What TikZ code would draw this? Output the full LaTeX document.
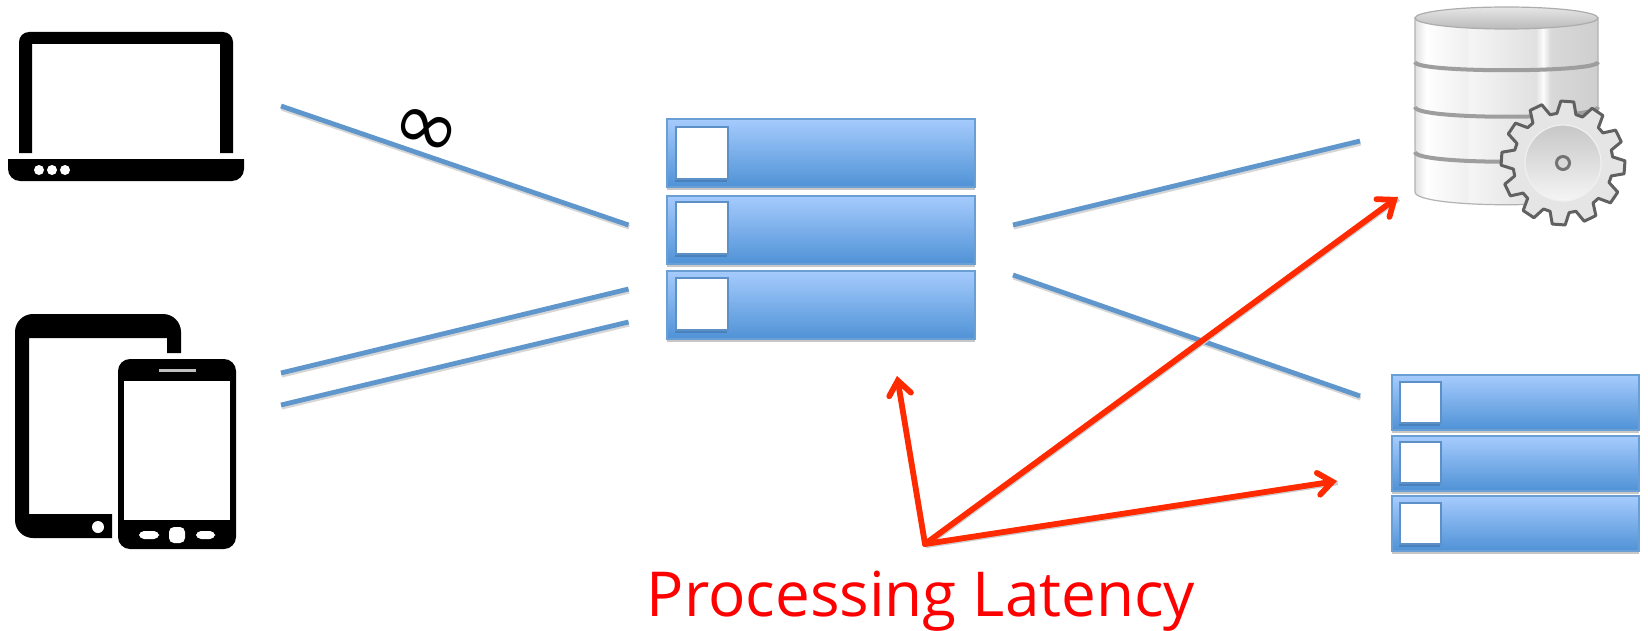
\documentclass[tikz,border=0pt]{standalone}
\usepackage{fontspec}
\setmainfont{Open Sans}
\newfontfamily\symbolfont{DejaVu Sans}
\usetikzlibrary{arrows.meta,shadows}
\definecolor{linkblue}{HTML}{5F96CB}
\definecolor{rowtop}{HTML}{A6CBFD}
\definecolor{rowbottom}{HTML}{4F92D6}
\definecolor{rowedge}{HTML}{6A9FD6}
\definecolor{celledge}{HTML}{5C90C6}
\definecolor{cellshade}{HTML}{3F72A8}
\definecolor{latencyred}{HTML}{FF2A00}
\pgfdeclarehorizontalshading{dbbody}{100bp}{
    color(0bp)=(black!12); color(25bp)=(black!12); color(28bp)=(white); color(39bp)=(black!6);
    color(40bp)=(black!4); color(58bp)=(black!12); color(60bp)=(black!1); color(62bp)=(black!15);
    color(75bp)=(black!19); color(100bp)=(black!19)}
\tikzset{
    rowbox/.style={draw=rowedge, line width=.8pt, top color=rowtop, bottom color=rowbottom,
        inner sep=0pt, outer sep=0pt, anchor=north west,
        drop shadow={shadow xshift=0pt, shadow yshift=-1.5pt, fill=black, opacity=.22}},
    midrow/.style={rowbox, minimum width=154pt, minimum height=34pt},
    sliprow/.style={rowbox, minimum width=123.5pt, minimum height=27.5pt},
    cellbox/.style={draw=celledge, line width=1pt, fill=white, inner sep=0pt, outer sep=0pt, anchor=north west,
        drop shadow={shadow xshift=-.3pt, shadow yshift=-1.6pt, fill=cellshade, opacity=.6}},
    midcell/.style={cellbox, minimum size=26pt},
    slipcell/.style={cellbox, minimum size=20.5pt},
    link/.style={draw=linkblue, line width=2.4pt,
        preaction={draw=black!16, line width=2.2pt, transform canvas={shift={(.3pt,-1.2pt)}}}},
    latency/.style={draw=latencyred, line width=2.9pt, line cap=round, -{Straight Barb[length=7pt,width=11pt,line cap=round]},
        preaction={draw=black!20, line width=2.2pt, -, transform canvas={shift={(.4pt,-1pt)}}}}
}
\begin{document}
\begin{tikzpicture}[x=.5pt, y=-.5pt]
    \useasboundingbox (0,0) rectangle (1648,631);

    \fill (19,153) [rounded corners=5pt] -- (19,32) -- (233,32) [sharp corners] -- (233,153) -- (220,153) -- (220,44) -- (32,44) -- (32,153) -- cycle;
    \fill (8,159) -- (244,159) [rounded corners=6pt] -- (244,181) -- (8,181) [sharp corners] -- cycle;
    \fill[white] (39,170) circle (5) (52,170) circle (5) (65,170) circle (5);

    \fill (181,353) [rounded corners=9pt] -- (181,314) -- (15,314) -- (15,538) [sharp corners] -- (112,538) -- (112,514) -- (29,514) -- (29,338) -- (167,338) -- (167,353) -- cycle;
    \fill[white] (98,527) circle (6);
    \fill[rounded corners=6pt] (118,359) rectangle (236,549);
    \fill[white] (124,381) rectangle (230,520);
    \fill[white!75!black] (159,368.5) rectangle (196,371.5);
    \fill[white, rounded corners=2.5pt] (139,531) rectangle (159,539) (196,531) rectangle (215,539) (169,527) rectangle (185,543);

    \foreach \n/\y/\s in {1/119/127, 2/196/202, 3/271/278} {
        \node[midrow] (midrow\n) at (667,\y) {};
        \node[midcell] (midcell\n) at (676,\s) {};
    }
    \foreach \n/\y/\s in {1/375/382, 2/436/442, 3/496/503} {
        \node[sliprow] (sliprow\n) at (1392,\y) {};
        \node[slipcell] (slipcell\n) at (1400,\s) {};
    }

    \shade[shading=dbbody, draw=black!30, line width=.6pt] (1415,18) -- (1415,192) .. controls (1415,209) and (1598,209) .. (1598,192) -- (1598,18) -- cycle;
    \draw[black!38, line width=2pt] (1415,62) .. controls (1415,73) and (1598,73) .. (1598,62);
    \draw[black!38, line width=2pt] (1415,107) .. controls (1415,120) and (1598,120) .. (1598,107);
    \draw[black!38, line width=2pt] (1415,152) .. controls (1415,165) and (1598,165) .. (1598,152);
    \shade[top color=black!10, bottom color=black!27, draw=black!32, line width=.6pt] (1506.5,18) ellipse [x radius=91.5, y radius=11];

    \coordinate (gear) at (1563,163);
    \draw[draw=black!62, line width=1.5pt, line join=round, fill=black!10]
        ([shift={(-7:50)}]gear) \foreach \a in {4,34,...,334} {
            -- ([shift={(\a-11:50)}]gear) -- ([shift={(\a-6:62)}]gear) -- ([shift={(\a+6:62)}]gear) -- ([shift={(\a+11:50)}]gear)
        } -- cycle;
    \shade[shading angle=135, top color=black!22, bottom color=black!4, draw=black!6, line width=.6pt] (gear) circle (38);
    \draw[draw=black!55, line width=1.5pt, fill=black!15] (gear) circle (6.5);

    \coordinate (laptopout) at (281,106);
    \coordinate (tabletout) at (281,373);
    \coordinate (phoneout) at (281,405);
    \coordinate (midinone) at (628.5,225);
    \coordinate (midintwo) at (628.5,289);
    \coordinate (midinthree) at (628.5,322);
    \coordinate (midoutone) at (1013,225);
    \coordinate (midouttwo) at (1013,275);
    \coordinate (dbin) at (1360,141);
    \coordinate (slipin) at (1360,396);

    \draw[link] (laptopout) -- (midinone);
    \draw[link] (tabletout) -- (midintwo);
    \draw[link] (phoneout) -- (midinthree);
    \draw[link] (midoutone) -- (dbin);
    \draw[link] (midouttwo) -- (slipin);

    \node[rotate=-18, inner sep=0pt] (unbounded) at (425,133) {\fontsize{41pt}{41pt}\symbolfont ∞};

    \coordinate (latencyroot) at (925,544);
    \coordinate (midhead) at (897,376);
    \coordinate (dbhead) at (1398,197);
    \coordinate (sliphead) at (1337,481);

    \draw[latency] (latencyroot) -- (midhead);
    \draw[latency] (latencyroot) -- (dbhead);
    \draw[latency] (latencyroot) -- (sliphead);

    \node[anchor=base, text=red, inner sep=0pt] (latencylabel) at (921,616) {\fontsize{31pt}{31pt}\selectfont Processing Latency};
\end{tikzpicture}
\end{document}
